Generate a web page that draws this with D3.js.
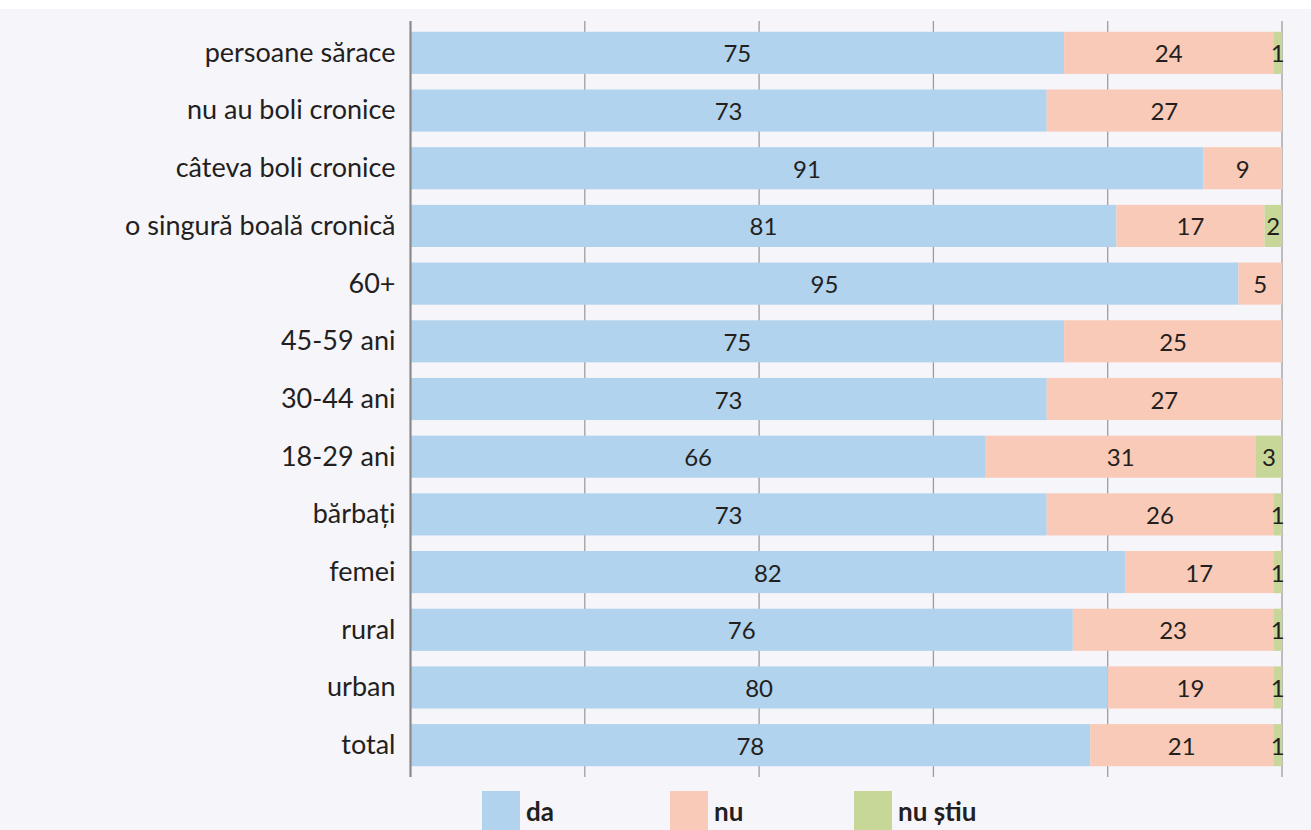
<!DOCTYPE html>
<html lang="ro">
<head>
<meta charset="UTF-8">
<title>da / nu / nu știu</title>
<script src="https://cdn.jsdelivr.net/npm/d3@7"></script>
<style>
  html, body { margin: 0; padding: 0; background: #ffffff; }
  text { font-family: Lato, "Noto Sans", sans-serif; fill: #231f20; }
</style>
</head>
<body>
<script>
    // date
    var categories = ["persoane sărace", "nu au boli cronice", "câteva boli cronice", "o singură boală cronică",
                      "60+", "45-59 ani", "30-44 ani", "18-29 ani", "bărbați", "femei", "rural", "urban", "total"];
    var da     = [75, 73, 91, 81, 95, 75, 73, 66, 73, 82, 76, 80, 78];
    var nu     = [24, 27,  9, 17,  5, 25, 27, 31, 26, 17, 23, 19, 21];
    var nuStiu = [ 1,  0,  0,  2,  0,  0,  0,  3,  1,  1,  1,  1,  1];
    var seriesNames = ["da", "nu", "nu știu"];
    var colors = ["#b1d3ee", "#f9cab7", "#c6d797"];
    var xTicks = [0, 20, 40, 60, 80, 100];

    var width = 1311, height = 830;
    var x0 = 410.5, x1 = 1282, yTop = 21, yBottom = 777;

    var rows = categories.map(function (c, i) {
        return {cat: c, "da": da[i], "nu": nu[i], "nu știu": nuStiu[i]};
    });
    var stack = d3.stack().keys(seriesNames)(rows);

    var XScale = d3.scaleLinear().domain([0, 100]).range([x0, x1]);
    var YScale = d3.scaleBand()
        .domain(categories)
        .range([24, 774])
        .paddingInner(0.27)
        .paddingOuter(0.135);
    var color = d3.scaleOrdinal().domain(seriesNames).range(colors);

    var svg = d3.select("body").append("svg")
        .attr("width", width).attr("height", height);

    // fundal
    svg.append("rect")
        .attr("x", 0).attr("y", 9)
        .attr("width", width).attr("height", height - 9)
        .attr("fill", "#f6f5fa");

    // linii de grilă (în spatele barelor)
    svg.append("g").selectAll("line")
        .data(xTicks.slice(1))
        .enter().append("line")
        .attr("x1", function (d) { return XScale(d); })
        .attr("x2", function (d) { return XScale(d); })
        .attr("y1", yTop).attr("y2", yBottom)
        .attr("stroke", "#9d9d9d").attr("stroke-width", 1.3);

    // bare
    var groups = svg.append("g").selectAll("g")
        .data(stack)
        .enter().append("g")
        .attr("fill", function (d) { return color(d.key); });

    groups.selectAll("rect")
        .data(function (d) { return d; })
        .enter().append("rect")
        .attr("x", function (d) { return XScale(d[0]); })
        .attr("width", function (d) { return XScale(d[1]) - XScale(d[0]); })
        .attr("y", function (d) { return YScale(d.data.cat); })
        .attr("height", YScale.bandwidth());

    // etichete valori
    groups.selectAll("text")
        .data(function (d) { return d.filter(function (p) { return p[1] - p[0] > 0; }); })
        .enter().append("text")
        .attr("x", function (d) { return (XScale(d[0]) + XScale(d[1])) / 2; })
        .attr("y", function (d) { return YScale(d.data.cat) + YScale.bandwidth() / 2 + 9.5; })
        .attr("text-anchor", "middle")
        .attr("font-size", "24px")
        .text(function (d) { return d[1] - d[0]; });

    // axa Y
    var axisY = d3.axisLeft(YScale).tickSize(0).tickPadding(15);
    var gAxisY = svg.append("g")
        .attr("transform", "translate(" + x0 + ",0)")
        .call(axisY);
    gAxisY.select(".domain").remove();
    gAxisY.selectAll("text")
        .attr("font-size", "27px")
        .attr("font-family", "Lato, sans-serif")
        .attr("fill", "#231f20")
        .attr("dy", "0.33em");

    svg.append("line")
        .attr("x1", x0).attr("x2", x0)
        .attr("y1", yTop).attr("y2", yBottom)
        .attr("stroke", "#8a8a8a").attr("stroke-width", 2.2);

    // legenda
    var legendX = [482, 670, 854];
    var legend = svg.append("g").selectAll("g")
        .data(seriesNames)
        .enter().append("g")
        .attr("transform", function (d, i) { return "translate(" + legendX[i] + ",791)"; });
    legend.append("rect")
        .attr("width", 38).attr("height", 39)
        .attr("fill", function (d) { return color(d); });
    legend.append("text")
        .attr("x", 44).attr("y", 30)
        .attr("font-size", "26px")
        .attr("font-weight", "bold")
        .text(function (d) { return d; });
</script>
</body>
</html>
